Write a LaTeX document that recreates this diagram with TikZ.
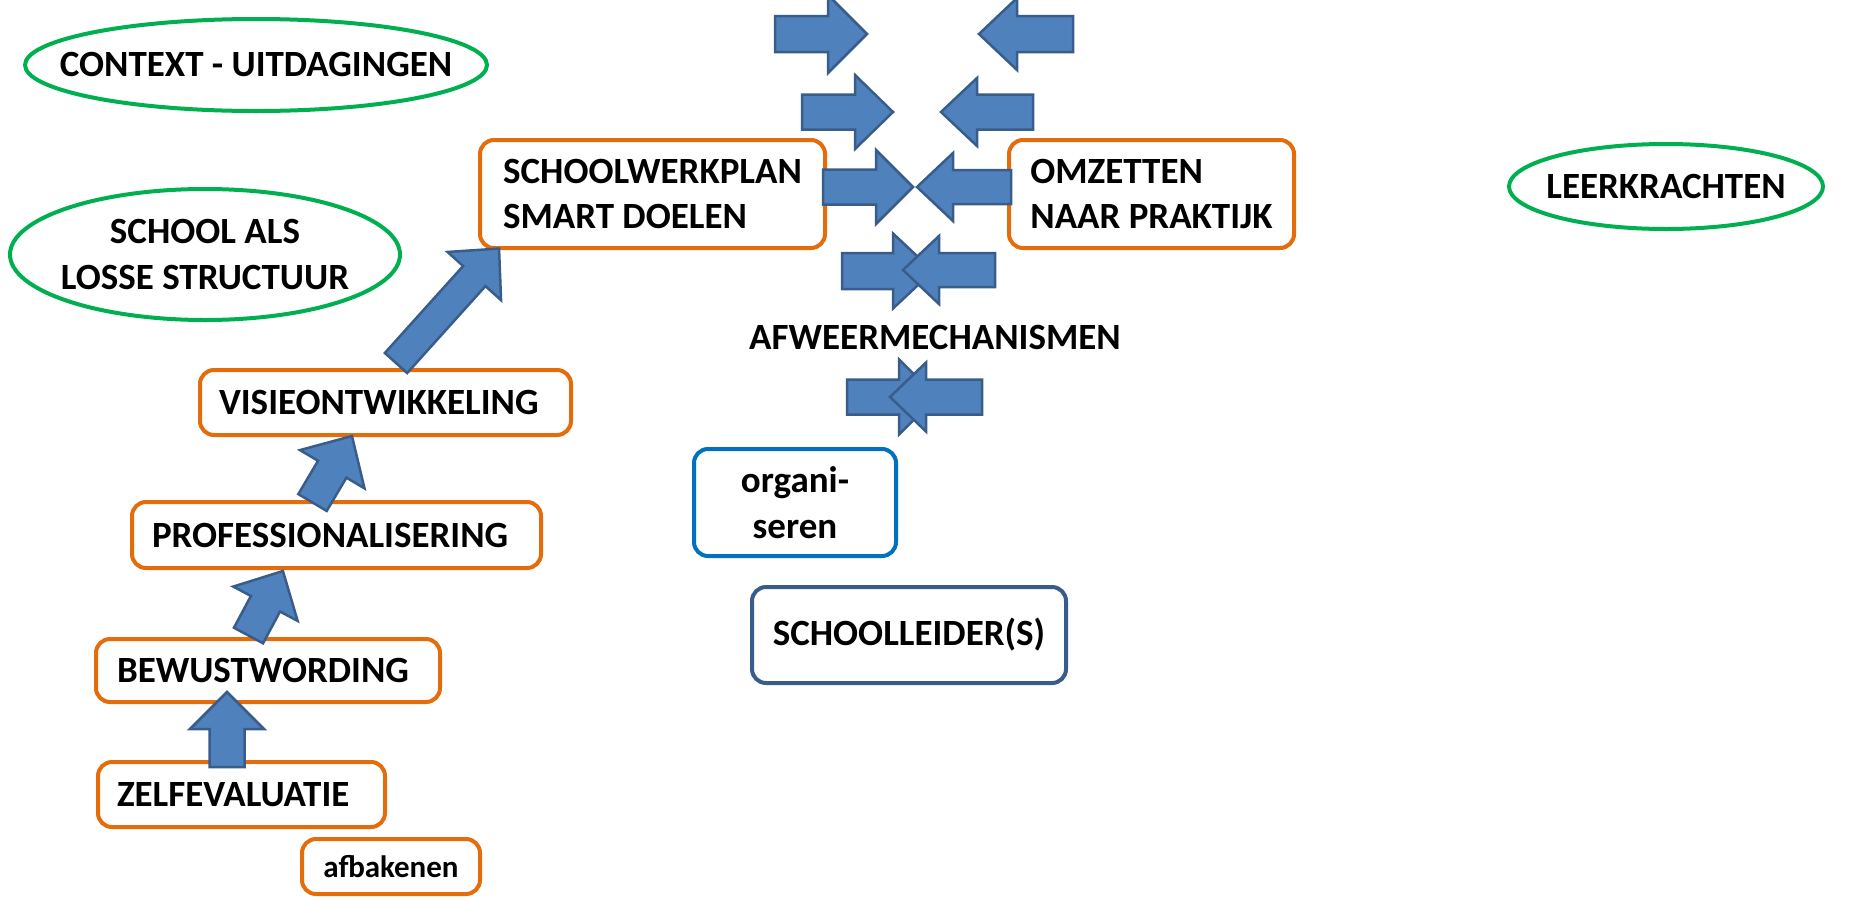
\documentclass[tikz,border=0pt]{standalone}
\usepackage{fontspec}
\setmainfont{Carlito}
\usetikzlibrary{shapes.geometric}
\definecolor{orangeline}{RGB}{228,108,10}
\definecolor{greenline}{RGB}{0,176,80}
\definecolor{blueline}{RGB}{0,112,192}
\definecolor{arrowfill}{RGB}{79,129,189}
\definecolor{arrowedge}{RGB}{56,93,138}
\newcommand{\blockarrow}[7]{%
  \begin{scope}[shift={(#1,#2)}, rotate=#3]
    \draw[barrow] (0,-#6) -- ({#4-#5},-#6) -- ({#4-#5},-#7) -- (#4,0) -- ({#4-#5},#7) -- ({#4-#5},#6) -- (0,#6) -- cycle;
  \end{scope}}
\tikzset{
  lbl/.style={font=\fontsize{37}{45.5}\selectfont\bfseries},
  obox/.style={draw=orangeline, line width=4pt, rounded corners=14pt, fill=white, lbl, align=left, inner ysep=0pt},
  gell/.style={draw=greenline, line width=4pt, ellipse, inner sep=0pt},
  barrow/.style={fill=arrowfill, draw=arrowedge, line width=2.5pt, line join=miter},
}
\begin{document}
\begin{tikzpicture}[x=1pt, y=-1pt]
\useasboundingbox (0,0) rectangle (1865,900);
% ellipses
\node[gell, minimum width=462pt, minimum height=92pt,
  label={[lbl]center:CONTEXT - UITDAGINGEN}] (context) at (256,65) {};
\node[gell, minimum width=390pt, minimum height=131pt,
  label={[lbl, align=center]center:{SCHOOL ALS\\LOSSE STRUCTUUR}}] (losse) at (205,254.5) {};
\node[gell, minimum width=314pt, minimum height=85pt,
  label={[lbl]center:LEERKRACHTEN}] (leer) at (1666,186.5) {};
% orange boxes
\node[obox, minimum height=108pt, minimum width=345pt] (swp) at (652.5,194) {SCHOOLWERKPLAN\\SMART DOELEN};
\node[obox, minimum height=108pt, minimum width=285pt] (omz) at (1151.5,194) {OMZETTEN\\NAAR PRAKTIJK};
\node[obox, minimum height=65pt, inner xsep=19pt, text width=333pt] (visie) at (385.5,402.5) {VISIEONTWIKKELING};
\node[obox, minimum height=66pt, inner xsep=20pt, text width=369pt] (prof) at (336.5,535) {PROFESSIONALISERING};
\node[obox, minimum height=63pt, inner xsep=21pt, text width=302pt] (bew) at (268,670.5) {BEWUSTWORDING};
\node[obox, minimum height=65pt, inner xsep=19pt, text width=249pt] (zelf) at (241.5,794.5) {ZELFEVALUATIE};
\node[obox, minimum height=55pt, minimum width=178pt, align=center, inner xsep=0pt, font=\fontsize{31}{36}\selectfont\bfseries] (afb) at (391,866.5) {afbakenen};
% blue boxes
\node[draw=blueline, line width=4pt, rounded corners=14pt, lbl, align=center, minimum width=202pt, minimum height=107pt] (org) at (795,502.5) {organi-\\seren};
\node[draw=arrowedge, line width=4pt, rounded corners=14pt, lbl, align=center, minimum width=314pt, minimum height=96pt] (leider) at (909,635) {SCHOOLLEIDER(S)};
% label
\node[lbl, inner sep=0pt] (afweer) at (935,337) {AFWEERMECHANISMEN};
% block arrows, right-pointing
\blockarrow{775}{34}{0}{92}{39}{18}{39}
\blockarrow{802}{112}{0}{91}{38}{17.5}{37}
\blockarrow{823}{187}{0}{90}{37}{17.5}{37}
\blockarrow{842}{271}{0}{91}{40}{18}{37.5}
\blockarrow{847}{397}{0}{90}{38}{17.5}{37.5}
% left-pointing
\blockarrow{1073}{34}{180}{94}{38}{18}{36}
\blockarrow{1033}{112}{180}{92}{36}{17.5}{34}
\blockarrow{1011}{187}{180}{94}{36}{17}{34}
\blockarrow{995}{270}{180}{92}{36}{17}{34}
\blockarrow{982}{397}{180}{92}{36}{17.5}{34.5}
% stack arrows
\blockarrow{396}{363}{48}{154}{37}{15}{36}
\blockarrow{312.5}{502.5}{59.3}{77.3}{38.6}{16.5}{37.5}
\blockarrow{248.5}{635.5}{61.9}{73.1}{37.1}{16.5}{36.5}
\blockarrow{227}{767}{90}{75}{37}{17.5}{37}
\end{tikzpicture}
\end{document}
